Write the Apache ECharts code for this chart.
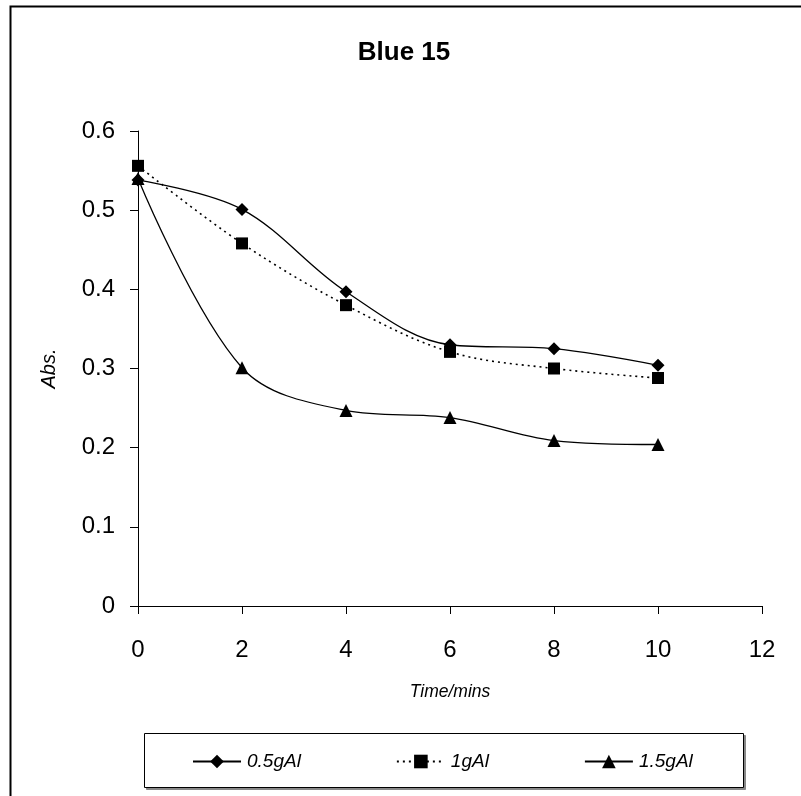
<!DOCTYPE html>
<html>
<head>
<meta charset="utf-8">
<style>
  html, body { margin: 0; padding: 0; background: #fff; }
  #chart { width: 801px; height: 796px; }
</style>
<script src="https://cdn.jsdelivr.net/npm/echarts@6/dist/echarts.min.js"></script>
</head>
<body>
<div id="chart"></div>
<script>
// Absorbance of Blue 15 over time for three aluminium doses
const timeMins = [0, 2, 4, 6, 8, 10];
const abs05gAl = [0.538, 0.501, 0.397, 0.330, 0.325, 0.304];
const abs1gAl = [0.556, 0.458, 0.380, 0.321, 0.300, 0.288];
const abs15gAl = [0.540, 0.301, 0.247, 0.238, 0.209, 0.204];
const seriesNames = ['0.5gAl', '1gAl', '1.5gAl'];

const FONT = '"Liberation Sans", Arial, sans-serif';

function pairs(ys) {
  return timeMins.map((t, i) => [t, ys[i]]);
}

const chart = echarts.init(document.getElementById('chart'), null, { renderer: 'canvas' });

const lineBase = { color: '#000', width: 1.3 };

chart.setOption({
  backgroundColor: '#fff',
  animation: false,
  title: {
    text: 'Blue 15',
    left: 399,
    top: 35,
    textAlign: 'center',
    textStyle: { fontFamily: FONT, fontWeight: 'bold', fontSize: 26, color: '#000' }
  },
  grid: { left: 138, right: 39, top: 131, bottom: 190, containLabel: false },
  xAxis: {
    type: 'value',
    min: 0, max: 12, interval: 2,
    name: 'Time/mins',
    nameLocation: 'middle',
    nameGap: 77,
    nameTextStyle: { fontFamily: FONT, fontStyle: 'italic', fontSize: 17.5, color: '#000' },
    axisLine: { show: true, lineStyle: { color: '#000', width: 1 } },
    axisTick: { show: true, inside: false, length: 8, lineStyle: { color: '#000' } },
    axisLabel: { margin: 32, fontFamily: FONT, fontSize: 24, color: '#000' },
    splitLine: { show: false }
  },
  yAxis: {
    type: 'value',
    min: 0, max: 0.6, interval: 0.1,
    name: 'Abs.',
    nameLocation: 'middle',
    nameGap: 79,
    nameRotate: 90,
    nameTextStyle: { fontFamily: FONT, fontStyle: 'italic', fontSize: 20, color: '#000' },
    axisLine: { show: true, lineStyle: { color: '#000', width: 1 } },
    axisTick: { show: true, inside: false, length: 8, lineStyle: { color: '#000' } },
    axisLabel: {
      margin: 23, fontFamily: FONT, fontSize: 24, color: '#000',
      formatter: v => String(Math.round(v * 10) / 10)
    },
    splitLine: { show: false }
  },
  legend: {
    left: 192,
    top: 752,
    padding: 0,
    itemWidth: 48,
    itemHeight: 17,
    itemGap: 95,
    textStyle: { fontFamily: FONT, fontStyle: 'italic', fontSize: 19, color: '#000', padding: [0, 0, 0, 1] },
    data: seriesNames
  },
  graphic: [
    {
      type: 'rect', left: 8, top: 4, z: -1,
      shape: { width: 820, height: 820 },
      style: { fill: 'none', stroke: '#000', lineWidth: 2 }
    },
    {
      type: 'rect', left: 146, top: 735, z: 0,
      shape: { width: 599, height: 54 },
      style: { fill: '#888', stroke: '#888', lineWidth: 1 }
    },
    {
      type: 'rect', left: 144, top: 733, z: 1,
      shape: { width: 599, height: 54 },
      style: { fill: '#fff', stroke: '#000', lineWidth: 1 }
    }
  ],
  series: [
    {
      name: seriesNames[0], type: 'line', smooth: 0.35,
      data: pairs(abs05gAl),
      symbol: 'diamond', symbolSize: 13,
      itemStyle: { color: '#000' },
      lineStyle: Object.assign({ type: 'solid' }, lineBase),
      z: 3
    },
    {
      name: seriesNames[1], type: 'line', smooth: 0.35,
      data: pairs(abs1gAl),
      symbol: 'rect', symbolSize: 12,
      itemStyle: { color: '#000' },
      lineStyle: Object.assign({ type: [2, 4] }, lineBase, { width: 1.6 }),
      z: 3
    },
    {
      name: seriesNames[2], type: 'line', smooth: 0.35,
      data: pairs(abs15gAl),
      symbol: 'triangle', symbolSize: 13,
      itemStyle: { color: '#000' },
      lineStyle: Object.assign({ type: 'solid' }, lineBase),
      z: 3
    }
  ]
});
</script>
</body>
</html>
